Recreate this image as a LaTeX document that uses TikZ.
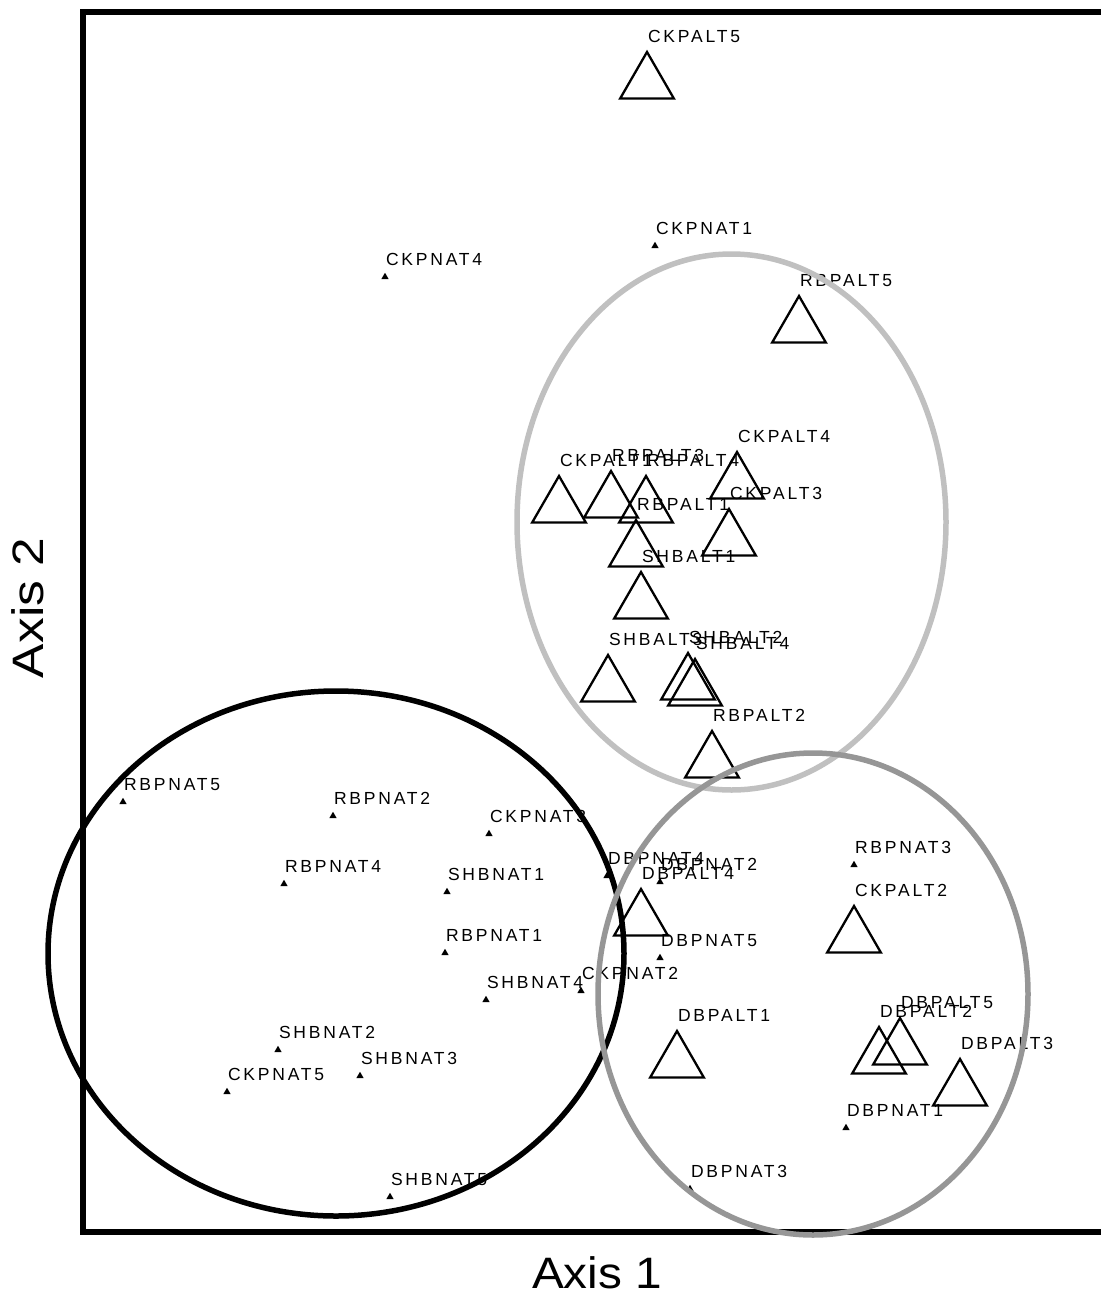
\documentclass[tikz,border=0pt]{standalone}
\usepackage{fontspec}
\setmainfont{Liberation Sans}
\newfontfamily\lblfont{Liberation Sans}[LetterSpace=16]
\usetikzlibrary{shapes.geometric}
\definecolor{ellA}{HTML}{C0C0C0}
\definecolor{ellB}{HTML}{969696}
\begin{document}
\begin{tikzpicture}[x=1pt,y=-1pt,
  natmark/.style={regular polygon, regular polygon sides=3, minimum size=8.5pt, inner sep=0pt, outer sep=0pt, fill=black},
  alttri/.style={regular polygon, regular polygon sides=3, minimum size=62pt, inner sep=0pt, outer sep=0pt, draw=black, line width=2.3pt},
  lbl/.style={anchor=base west, inner sep=0pt, outer sep=0pt, font=\lblfont\fontsize{17.5}{20}\selectfont},
  axislbl/.style={anchor=base west, inner sep=0pt, outer sep=0pt, font=\fontsize{44}{50}\selectfont},
  frameline/.style={line width=6pt, black},
  grpline/.style={line width=5.5pt}
]
\useasboundingbox (0,0) rectangle (1101,1294);
% frame
\draw[frameline] (1101,12) -- (82.5,12) -- (82.5,1231.5) -- (1101,1231.5);
% axis titles
\node[axislbl] (ax1) at (532,1288) {\scalebox{1.085}[1]{Axis 1}};
\node[axislbl, rotate=90] (ax2) at (43,678) {\scalebox{1.17}[1]{Axis 2}};
% native plots: small markers
\foreach \n/\x/\y in {CKPNAT1/655/246, CKPNAT4/385/277, RBPNAT5/123/802, RBPNAT2/333/816,
  CKPNAT3/489/834, RBPNAT4/284/884, SHBNAT1/447/892, DBPNAT4/607/876, DBPNAT2/660/882,
  RBPNAT3/854/865, DBPNAT5/660/958, RBPNAT1/445/953, CKPNAT2/581/991, SHBNAT4/486/1000,
  SHBNAT2/278/1050, SHBNAT3/360/1076, CKPNAT5/227/1092, DBPNAT1/846/1128, DBPNAT3/690/1189,
  SHBNAT5/390/1197}{
  \node[natmark] (m\n) at (\x,\y) {};
  \node[lbl] (l\n) at (\x+1,\y-12) {\n};
}
% alien plots: large open triangles (x, apex y)
\foreach \n/\x/\y in {CKPALT5/647/52, RBPALT5/799/296, CKPALT4/737/452, RBPALT3/611/471,
  CKPALT1/559/476, RBPALT4/646/476, CKPALT3/729/509, RBPALT1/636/520, SHBALT1/641/572,
  SHBALT2/688/653, SHBALT3/608/655, SHBALT4/695/659, RBPALT2/712/731, DBPALT4/641/889,
  CKPALT2/854/906, DBPALT5/900/1018, DBPALT2/879/1027, DBPALT1/677/1031, DBPALT3/960/1059}{
  \node[alttri] (t\n) at (\x,\y+31) {};
  \node[lbl] (l\n) at (\x+1,\y-10) {\n};
}
% group ellipses
\draw[grpline, black] (336,953.5) ellipse [x radius=288pt, y radius=262.5pt];
\draw[grpline, ellA] (731.5,522) ellipse [x radius=214.5pt, y radius=268pt];
\draw[grpline, ellB] (813,994) ellipse [x radius=215pt, y radius=241pt];
\end{tikzpicture}
\end{document}
